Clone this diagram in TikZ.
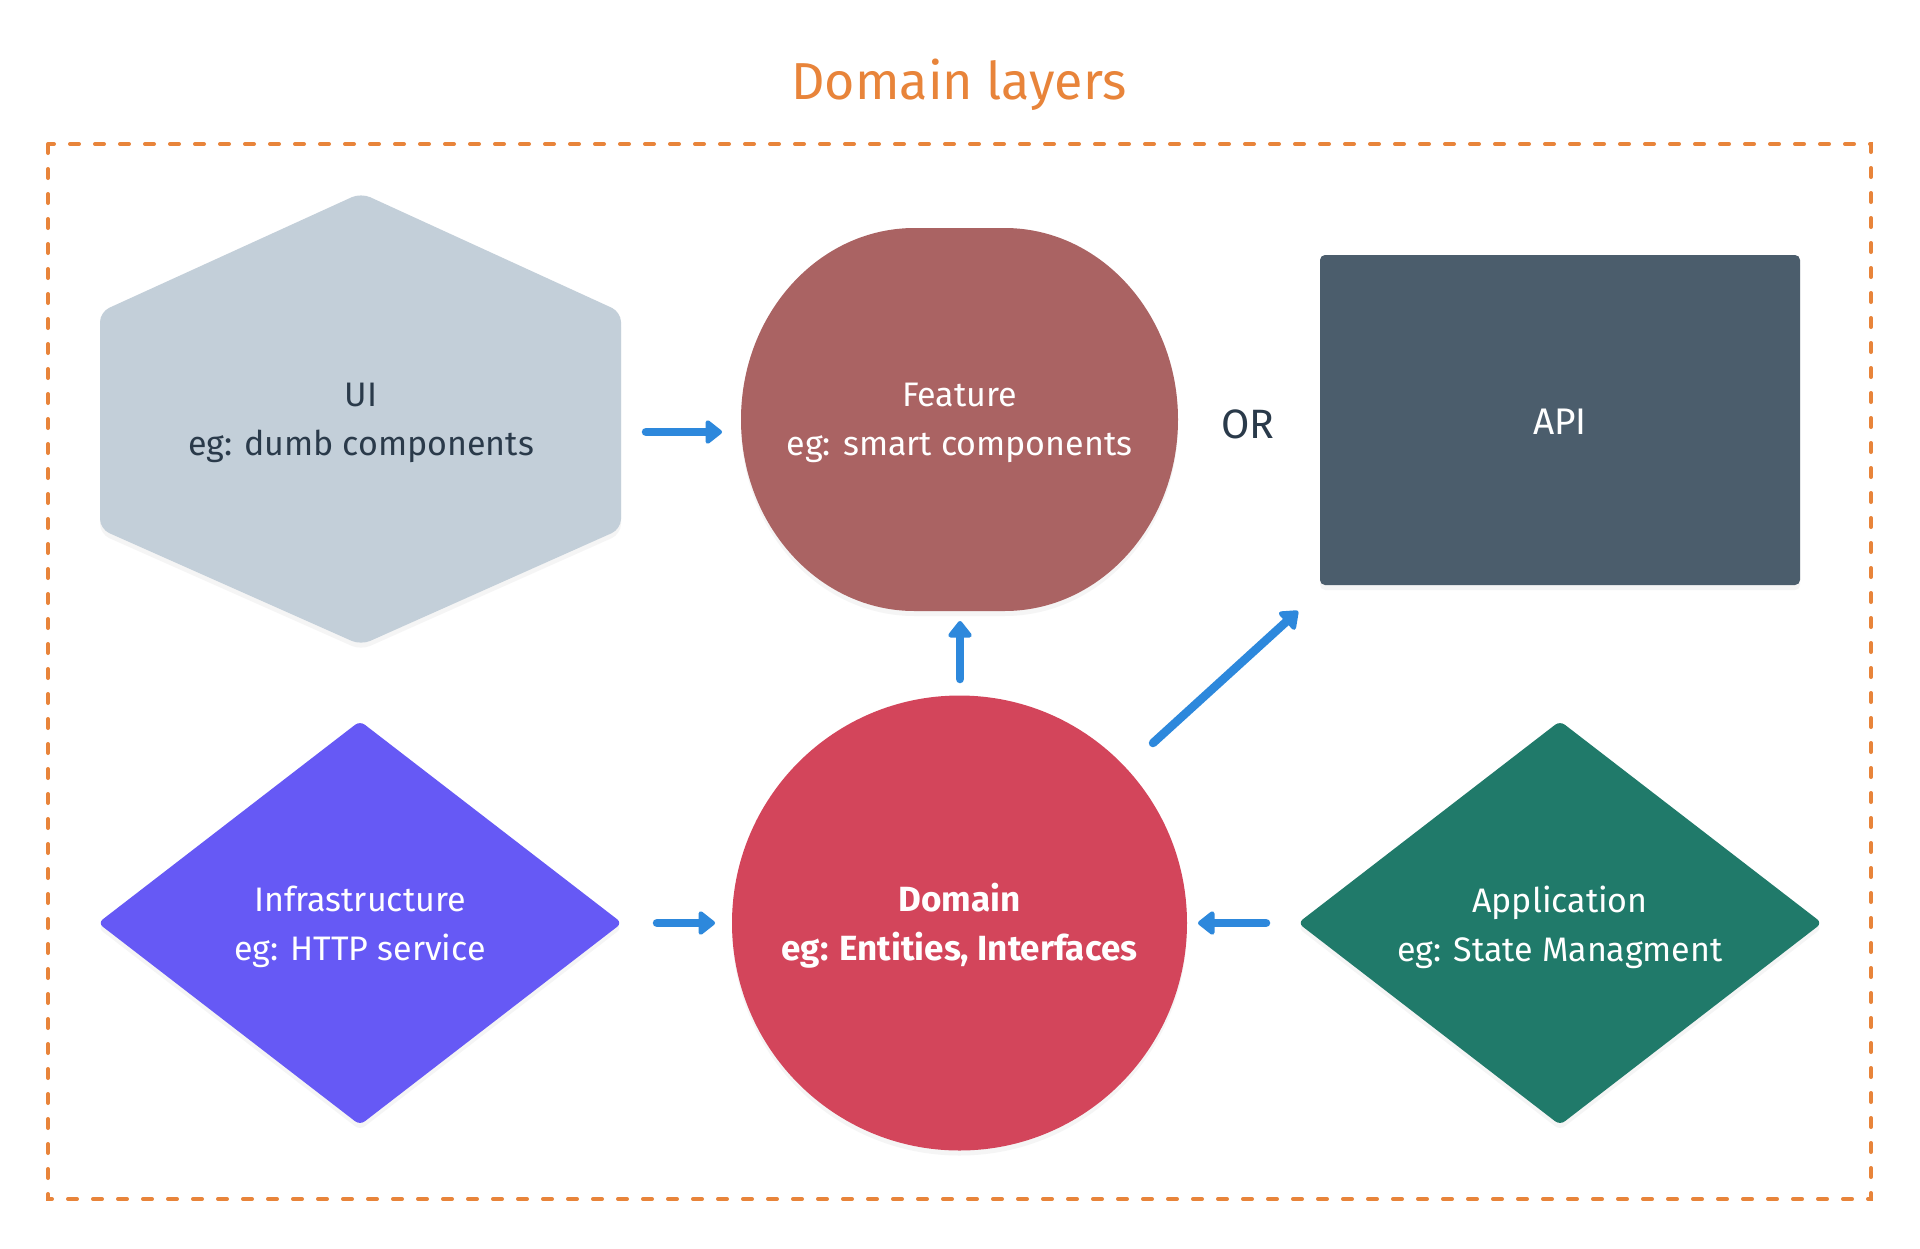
\documentclass[tikz,border=0pt]{standalone}
\usepackage{fontspec}
\setmainfont{Fira Sans}
\usetikzlibrary{arrows.meta,shadows}
\definecolor{orng}{HTML}{E8843A}
\definecolor{uifill}{HTML}{C3CFD9}
\definecolor{darktxt}{HTML}{2A3A4A}
\definecolor{featfill}{HTML}{AA6363}
\definecolor{apifill}{HTML}{4B5D6C}
\definecolor{domfill}{HTML}{D3455B}
\definecolor{infrafill}{HTML}{6659F5}
\definecolor{appfill}{HTML}{207A6A}
\definecolor{arrblue}{HTML}{2D88DC}
\begin{document}
\begin{tikzpicture}[x=1pt,y=-1pt,
  lbl/.style={align=center,font=\fontsize{34}{49}\selectfont,inner sep=0pt},
  shp/.style={drop shadow={opacity=0.08,shadow xshift=0pt,shadow yshift=-5pt}},
  conn/.style={arrblue,line width=8.5pt,line cap=round,-{Triangle[width=27pt,length=18pt,round]}}]
\path[use as bounding box,fill=white] (0,0) rectangle (1920,1248);
% title
\node[font=\fontsize{52}{62}\selectfont,text=orng,inner sep=0pt] (title) at (959,85) {Domain layers};
% frame
\draw[orng,line width=4pt,line cap=round,dash pattern=on 9pt off 16pt] (48,144) rectangle (1871,1199);
% UI hexagon
\fill[uifill,rounded corners=10pt,shp] (361,193) -- (621,312) -- (621,529) -- (361,645) -- (100,529) -- (100,312) -- cycle;
\node[lbl,text=darktxt] (ui) at (361,423) {UI\\eg: dumb components};
% Feature
\fill[featfill,shp] (914.5,228) -- (1004.5,228) arc[start angle=90,end angle=-90,x radius=173.5pt,y radius=191.5pt] -- (914.5,611) arc[start angle=270,end angle=90,x radius=173.5pt,y radius=191.5pt] -- cycle;
\node[lbl,text=white] (feature) at (959.5,423) {Feature\\eg: smart components};
% OR
\node[font=\fontsize{41}{44}\selectfont,text=darktxt,inner sep=0pt] (or) at (1248,424) {OR};
% API
\fill[apifill,rounded corners=5pt,shp] (1320,255) rectangle (1800,585);
\node[text=white,font=\fontsize{37}{44}\selectfont,inner sep=0pt] (api) at (1560,422) {API};
% Domain
\fill[domfill,shp] (959.5,923) circle[radius=227.5pt];
\node[lbl,text=white,font=\fontsize{35}{49}\selectfont\bfseries] (domain) at (959.5,926) {Domain\\eg: Entities, Interfaces};
% Infrastructure
\fill[infrafill,rounded corners=6pt,shp] (360,721) -- (622,923) -- (360,1125) -- (98,923) -- cycle;
\node[lbl,text=white] (infra) at (360,927) {Infrastructure\\eg: HTTP service};
% Application
\fill[appfill,rounded corners=6pt,shp] (1560,721) -- (1822,923) -- (1560,1125) -- (1298,923) -- cycle;
\node[lbl,text=white] (app) at (1560,927) {Application\\eg: State Managment};
% arrow anchor coordinates
\coordinate (uiE) at (646,432);
\coordinate (featW) at (722,432);
\coordinate (domN) at (960,679);
\coordinate (featS) at (960,621);
\coordinate (domNE) at (1153,743);
\coordinate (apiSW) at (1298,611);
\coordinate (infraE) at (657,923);
\coordinate (domW) at (715,923);
\coordinate (appW) at (1266,923);
\coordinate (domE) at (1198,923);
\draw[conn] (uiE) -- (featW);
\draw[conn] (domN) -- (featS);
\draw[conn] (domNE) -- (apiSW);
\draw[conn] (infraE) -- (domW);
\draw[conn] (appW) -- (domE);
\end{tikzpicture}
\end{document}
